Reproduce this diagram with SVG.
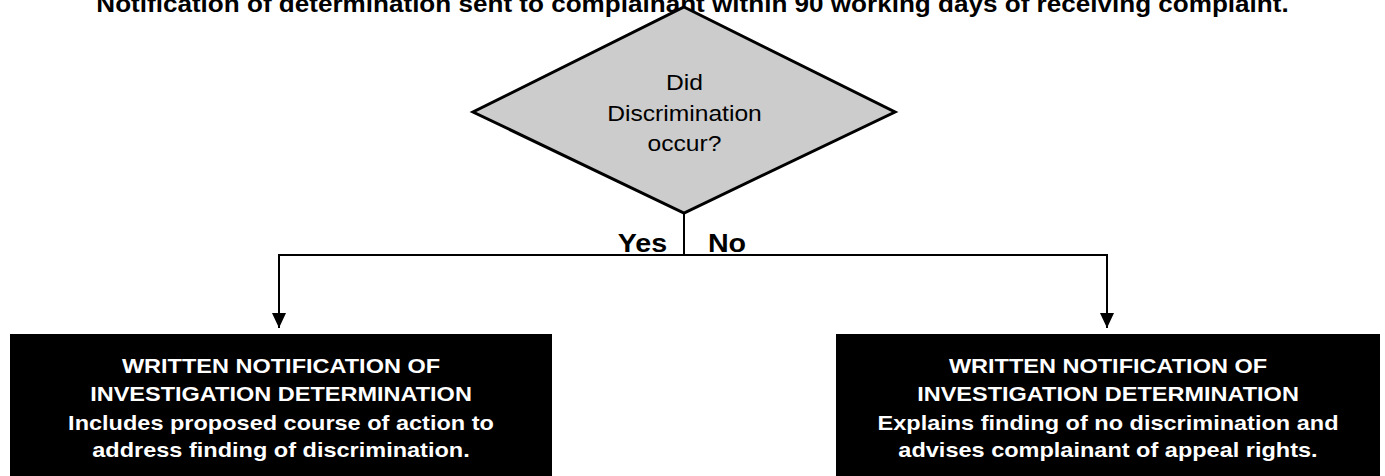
<svg xmlns="http://www.w3.org/2000/svg" width="1385" height="476" viewBox="0 0 1385 476">
<style>
.t{font-family:"Liberation Sans",Arial,sans-serif;text-anchor:middle}
.b{font-weight:bold}
.w{fill:#fff}
.c{stroke:#000;stroke-width:2;fill:none}
</style>
<defs>
<marker id="ah" markerWidth="15" markerHeight="14" refX="15" refY="7" orient="auto" markerUnits="userSpaceOnUse" viewBox="0 0 15 14">
<path d="M0,0 L15,7 L0,14 Z" fill="#000"/>
</marker>
</defs>
<rect width="1385" height="476" fill="#fff"/>
<g id="title">
<text class="t b" font-size="23.3" transform="translate(692.5,11.5) scale(1.12,1)" x="0" y="0">Notification of determination sent to complainant within 90 working days of receiving complaint.</text>
</g>
<g id="decision">
<polygon points="684,7 895,112 684,213 473,112" fill="#ccc" stroke="#000" stroke-width="3" stroke-linejoin="miter"/>
<g class="t" font-size="22" transform="translate(684.5,0) scale(1.12,1)">
<text x="0" y="90">Did</text>
<text x="0" y="121">Discrimination</text>
<text x="0" y="151">occur?</text>
</g>
</g>
<g id="connectors">
<path class="c" d="M684,213 V255"/>
<path class="c" d="M279,255 H1107"/>
<path class="c" d="M279,254 V328" marker-end="url(#ah)"/>
<path class="c" d="M1107,254 V328" marker-end="url(#ah)"/>
<text class="t b" font-size="25.6" transform="translate(642.5,252) scale(1.12,1)" x="0" y="0">Yes</text>
<text class="t b" font-size="25.6" transform="translate(727,252) scale(1.12,1)" x="0" y="0">No</text>
</g>
<g id="yesBox">
<rect x="10" y="334" width="542" height="150" fill="#000"/>
<g class="t b w" font-size="21" transform="translate(281,0) scale(1.12,1)">
<text x="0" y="373">WRITTEN NOTIFICATION OF</text>
<text x="0" y="401.5">INVESTIGATION DETERMINATION</text>
<text x="0" y="430">Includes proposed course of action to</text>
<text x="0" y="457.5">address finding of discrimination.</text>
</g>
</g>
<g id="noBox">
<rect x="836" y="334" width="544" height="150" fill="#000"/>
<g class="t b w" font-size="21" transform="translate(1108,0) scale(1.12,1)">
<text x="0" y="373">WRITTEN NOTIFICATION OF</text>
<text x="0" y="401.5">INVESTIGATION DETERMINATION</text>
<text x="0" y="430">Explains finding of no discrimination and</text>
<text x="0" y="457.5">advises complainant of appeal rights.</text>
</g>
</g>
</svg>
